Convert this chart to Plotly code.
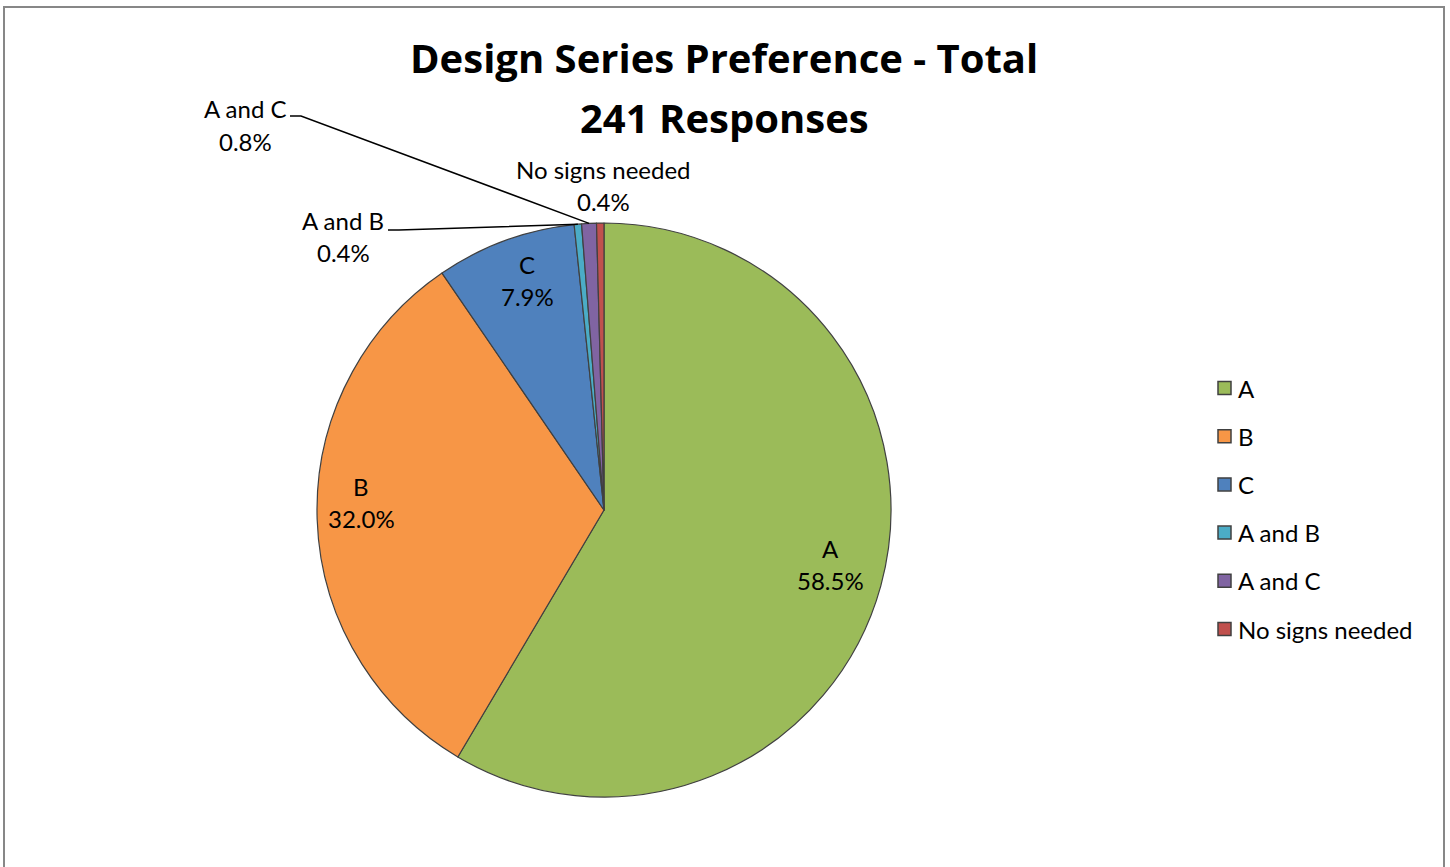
import math
import plotly.graph_objects as go

# ---- data -------------------------------------------------------------
categories = ["A", "B", "C", "A and B", "A and C", "No signs needed"]
responses = [141, 77, 19, 1, 2, 1]
title_lines = ["Design Series Preference - Total", "241 Responses"]

# ---- styling / layout constants ------------------------------------------
W, H = 1450, 867
colors = ["#9BBB59", "#F79646", "#4F81BD", "#4BACC6", "#8064A2", "#C0504D"]
FONT = "Lato, 'Open Sans', sans-serif"
TITLE_FONT = "'Open Sans', Lato, sans-serif"
LABEL_SIZE = 24
CX, CY, R = 604, 510, 287          # pie centre and radius in pixels

# label block centres (pixels) and where each leader line starts
label_pos = {
    "A": (831, 564),
    "B": (361, 502),
    "C": (527, 280),
    "A and B": (343, 237),
    "A and C": (245, 125),
    "No signs needed": (603, 186),
}
leader_start = {
    "A and B": (388, 230),
    "A and C": (290, 116),
}
LINE_GAP = 32


def px(x):
    return x / W


def py(y):
    return 1 - y / H


total = sum(responses)
pct = [100 * v / total for v in responses]

fig = go.Figure()
fig.add_trace(go.Pie(
    labels=categories,
    values=responses,
    sort=False,
    direction="clockwise",
    rotation=0,
    marker=dict(colors=colors, line=dict(color="#404040", width=1.2)),
    textinfo="none",
    hoverinfo="label+percent",
    showlegend=False,
    domain=dict(x=[px(CX - R), px(CX + R)], y=[py(CY + R), py(CY - R)]),
))

annotations = []
shapes = []

# title
for i, line in enumerate(title_lines):
    annotations.append(dict(
        x=px(724), y=py(58 + 59 * i), xref="paper", yref="paper",
        text=f"<b>{line}</b>", showarrow=False,
        font=dict(family=TITLE_FONT, size=40, color="#000000"),
        xanchor="center", yanchor="middle",
    ))

# data labels with leader lines to the arc midpoint of each slice
cum = 0
for name, v, p in zip(categories, responses, pct):
    mid = 2 * math.pi * (cum + v / 2) / total
    cum += v
    lx, ly = label_pos[name]
    for j, t in enumerate([name, f"{p:.1f}%"]):
        annotations.append(dict(
            x=px(lx), y=py(ly - LINE_GAP / 2 + LINE_GAP * j),
            xref="paper", yref="paper", text=t, showarrow=False,
            font=dict(family=FONT, size=LABEL_SIZE, color="#000000"),
            xanchor="center", yanchor="middle",
        ))
    if name in leader_start:
        sx, sy = leader_start[name]
        ex = CX + R * math.sin(mid)
        ey = CY - R * math.cos(mid)
        path = (f"M {px(sx)} {py(sy)} L {px(sx + 11)} {py(sy)} "
                f"L {px(ex)} {py(ey)}")
        shapes.append(dict(type="path", xref="paper", yref="paper", path=path,
                           line=dict(color="#000000", width=1.5)))

# legend
LEG_X, LEG_Y0, LEG_STEP, SQ = 1218, 388, 48.2, 13
for i, (name, c) in enumerate(zip(categories, colors)):
    yc = LEG_Y0 + LEG_STEP * i
    shapes.append(dict(
        type="rect", xref="paper", yref="paper",
        x0=px(LEG_X), x1=px(LEG_X + SQ), y0=py(yc + SQ / 2), y1=py(yc - SQ / 2),
        fillcolor=c, line=dict(color="#404040", width=1.5),
    ))
    annotations.append(dict(
        x=px(LEG_X + SQ + 5), y=py(yc), xref="paper", yref="paper",
        text=name, showarrow=False, xanchor="left", yanchor="middle",
        font=dict(family=FONT, size=LABEL_SIZE, color="#000000"),
    ))

# chart frame
shapes.append(dict(type="rect", xref="paper", yref="paper",
                   x0=px(4), x1=px(1444), y0=-0.05, y1=py(7),
                   line=dict(color="#878787", width=2), fillcolor="rgba(0,0,0,0)"))

fig.update_layout(
    width=W, height=H,
    margin=dict(l=0, r=0, t=0, b=0),
    paper_bgcolor="#FFFFFF",
    plot_bgcolor="#FFFFFF",
    annotations=annotations,
    shapes=shapes,
    font=dict(family=FONT),
)

fig.write_html("out.html")
